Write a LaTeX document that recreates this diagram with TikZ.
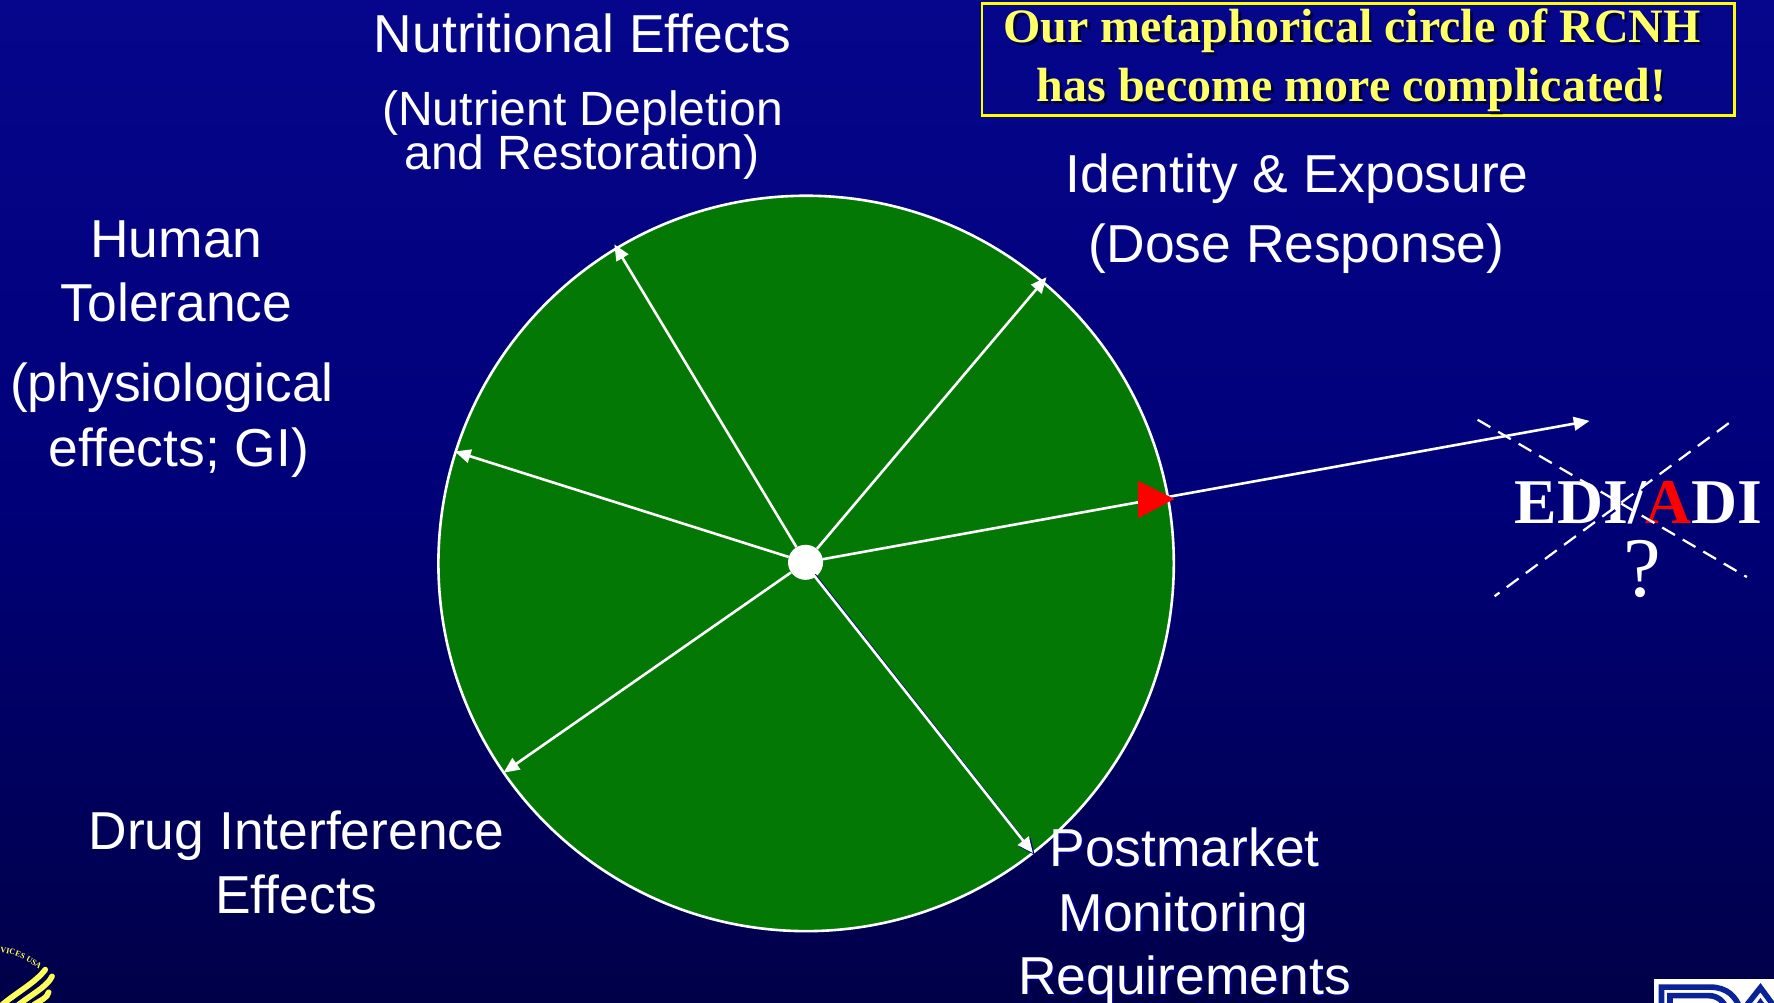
\documentclass[tikz,border=0pt]{standalone}
\usepackage{fontspec}
\setmainfont{Liberation Sans}
\newfontfamily\serifbf{Liberation Serif}
\usetikzlibrary{arrows.meta,decorations.text}
\definecolor{bgtop}{RGB}{6,6,140}
\definecolor{bgmid}{RGB}{0,0,120}
\definecolor{bgbot}{RGB}{0,0,72}
\definecolor{wheel}{RGB}{3,120,5}
\definecolor{titleyellow}{RGB}{255,255,102}
\definecolor{boxyellow}{RGB}{255,255,0}
\definecolor{navyshadow}{RGB}{0,0,128}
\definecolor{titledark}{RGB}{0,0,60}
\definecolor{seal}{RGB}{255,255,90}
\definecolor{fdablue}{RGB}{10,35,150}
\tikzset{
  x=1pt,y=-1pt,
  label/.style={anchor=base,inner sep=0pt,outer sep=0pt,text=white,font=\fontsize{47.2}{50}\selectfont},
  sublabel/.style={label,font=\fontsize{42.5}{46}\selectfont},
  shadowlabel/.style={label,text=navyshadow},
  titletext/.style={anchor=base,inner sep=0pt,outer sep=0pt,text=titleyellow,font=\serifbf\bfseries\fontsize{42.4}{45}\selectfont},
  titleshadow/.style={titletext,text=titledark},
  spoke/.style={draw=white,line width=2.3pt,-{Triangle[length=14pt,width=12pt]}},
  spokeshadow/.style={draw=navyshadow,line width=2.3pt,-{Triangle[length=14pt,width=12pt]}},
  xline/.style={draw=white,line width=2pt,dash pattern=on 13pt off 8pt},
  xshadow/.style={draw=navyshadow,line width=2pt,dash pattern=on 13pt off 8pt},
  edi/.style={anchor=base,inner sep=0pt,outer sep=0pt,text=white,font=\serifbf\bfseries\fontsize{56.3}{60}\selectfont},
}
\begin{document}
\begin{tikzpicture}
\useasboundingbox (0,0) rectangle (1568,886.5);
\begin{scope}
\clip (0,0) rectangle (1568,886.5);
\shade[top color=bgtop,bottom color=bgbot,middle color=bgmid] (0,0) rectangle (1568,886.5);

\node[circle,draw=white,line width=2.3pt,fill=wheel,minimum size=650pt,inner sep=0pt] (wheelnode) at (712.5,498) {};
\node[circle,fill=white,minimum size=31pt,inner sep=0pt] (hub) at (712,497) {};

\coordinate (tipNutr) at (543,216);
\coordinate (tipIdent) at (925,245);
\coordinate (tipHuman) at (402,399);
\coordinate (tipDrug) at (445,683);
\coordinate (tipPost) at (913,754);
\coordinate (tipOut) at (1405,372);
\coordinate (shadowPostA) at (720,508);
\coordinate (shadowPostB) at (914.5,755.5);
\coordinate (whitePostA) at (719,508);

\draw[spoke] (hub) -- (tipNutr);
\draw[spoke] (hub) -- (tipIdent);
\draw[spoke] (hub) -- (tipHuman);
\draw[spoke] (hub) -- (tipDrug);
\draw[spokeshadow] (shadowPostA) -- (shadowPostB);
\draw[spoke] (whitePostA) -- (tipPost);
\draw[spoke] (hub) -- (tipOut);
\fill[red] (1006,425) -- (1038,441) -- (1006,458) -- cycle;

\node[label] (nutrA) at (515,46) {Nutritional Effects};
\node[sublabel] (nutrB) at (515,111) {(Nutrient Depletion};
\node[sublabel] (nutrC) at (514.5,150) {and Restoration)};
\node[label] (identA) at (1146.5,170) {Identity \& Exposure};
\node[label] (identB) at (1146,232) {(Dose Response)};
\node[label] (humA) at (156,228) {Human};
\node[label] (humB) at (156,284) {Tolerance};
\node[label] (humC) at (152,355) {(physiological};
\node[label] (humD) at (158,412) {effects; GI)};
\node[label] (drugA) at (262,751) {Drug Interference};
\node[label] (drugB) at (262,807) {Effects};
\node[shadowlabel] (postAs) at (1049,768) {Postmarket};
\node[shadowlabel] (postBs) at (1048,825) {Monitoring};
\node[shadowlabel] (postCs) at (1049,881) {Requirements};
\node[label] (postA) at (1047,766) {Postmarket};
\node[label] (postB) at (1046,823) {Monitoring};
\node[label] (postC) at (1047,879) {Requirements};

\node[draw=boxyellow,line width=2.2pt,minimum width=665pt,minimum height=99pt,inner sep=0pt] (titlebox) at (1200.5,52.5) {};
\node[titleshadow] (t1s) at (1197.5,40.5) {Our metaphorical circle of RCNH};
\node[titleshadow] (t2s) at (1197,92.5) {has become more complicated!};
\node[titletext] (t1) at (1195,38) {Our metaphorical circle of RCNH};
\node[titletext] (t2) at (1194.5,90) {has become more complicated!};

\node[edi] (ediword) at (1448.5,463) {EDI/\textcolor{red}{A}DI};
\node[anchor=base,inner sep=0pt,text=white,font=\serifbf\fontsize{75}{80}\selectfont] (question) at (1452,527) {?};
\coordinate (xa1) at (1306,371);
\coordinate (xa2) at (1544,510);
\coordinate (xb1) at (1528,374);
\coordinate (xb2) at (1321,527);
\draw[xshadow] ([shift={(1,2)}]xb1) -- ([shift={(1,2)}]xb2);
\draw[xline] (xa1) -- (xa2);
\draw[xline] (xb1) -- (xb2);

\draw[seal,line width=5pt,line cap=round] (2,888) .. controls (15,877) and (32,868) .. (40,857);
\draw[seal,line width=5pt,line cap=round] (14,890) .. controls (26,880) and (42,872) .. (46,863);
\draw[seal,line width=5pt,line cap=round] (30,888) .. controls (36,884) and (42,882) .. (43,877);
\path[decorate,decoration={text along path,text align=left,text={|\serifbf\bfseries\fontsize{7.2}{8}\selectfont\color{seal}|VICES USA}}]
  (0,842) .. controls (16,843) and (30,851) .. (46,868);

\fill[white] (1462,865) rectangle (1568,887);
\draw[fdablue,line width=5pt] (1468.5,892) -- (1468.5,872.5) -- (1512,872.5) .. controls (1526,872.5) and (1535,881) .. (1538,892);
\draw[fdablue,line width=5pt] (1476,892) -- (1476,880) -- (1510,880) .. controls (1518,880) and (1524,885) .. (1526,892);
\draw[fdablue,line width=5pt] (1541,892) -- (1556,873) -- (1570,892);
\draw[fdablue,line width=3.5pt] (1551,892) -- (1556,885) -- (1561,892);
\end{scope}
\end{tikzpicture}
\end{document}
